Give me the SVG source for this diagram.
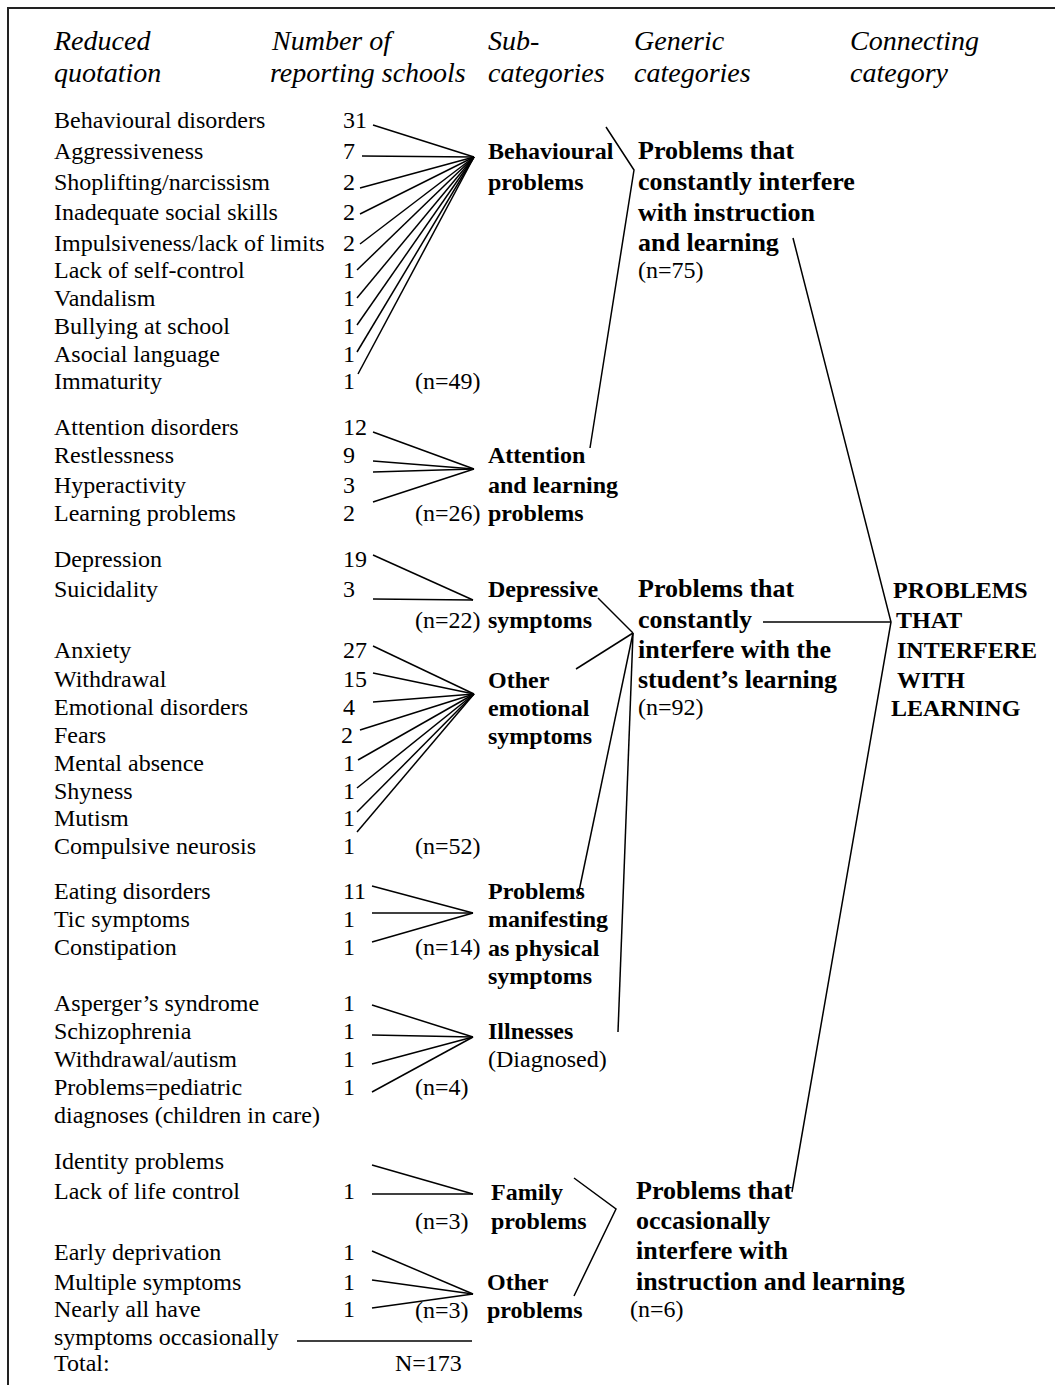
<svg xmlns="http://www.w3.org/2000/svg" width="1055" height="1385" viewBox="0 0 1055 1385">
<style>
text{font-family:"Liberation Serif","Times New Roman",serif;fill:#000;}
.h{font-size:28px;font-style:italic;}
.t{font-size:24px;}
.b{font-size:24px;font-weight:bold;}
.g{font-size:26px;font-weight:bold;}
.c line,.c polyline{stroke:#000;stroke-width:1.5;fill:none;}
.frame{stroke:#222;stroke-width:2;fill:none;}
</style>
<rect width="1055" height="1385" fill="#fff"/>
<polyline class="frame" points="8,1385 8,8 1055,8"/>

<g id="header" class="h">
<text x="54" y="50">Reduced</text><text x="54" y="82">quotation</text>
<text x="272" y="50">Number of</text><text x="270" y="82">reporting schools</text>
<text x="488" y="50">Sub-</text><text x="488" y="82">categories</text>
<text x="634" y="50">Generic</text><text x="634" y="82">categories</text>
<text x="850" y="50">Connecting</text><text x="850" y="82">category</text>
</g>

<g id="quotes-behavioural" class="t">
<text x="54" y="128">Behavioural disorders</text><text x="343" y="128">31</text>
<text x="54" y="159">Aggressiveness</text><text x="343" y="159">7</text>
<text x="54" y="190">Shoplifting/narcissism</text><text x="343" y="190">2</text>
<text x="54" y="220">Inadequate social skills</text><text x="343" y="220">2</text>
<text x="54" y="251">Impulsiveness/lack of limits</text><text x="343" y="251">2</text>
<text x="54" y="278">Lack of self-control</text><text x="343" y="278">1</text>
<text x="54" y="306">Vandalism</text><text x="343" y="306">1</text>
<text x="54" y="334">Bullying at school</text><text x="343" y="334">1</text>
<text x="54" y="362">Asocial language</text><text x="343" y="362">1</text>
<text x="54" y="389">Immaturity</text><text x="343" y="389">1</text>
<text x="415" y="389">(n=49)</text>
</g>

<g id="quotes-attention" class="t">
<text x="54" y="435">Attention disorders</text><text x="343" y="435">12</text>
<text x="54" y="463">Restlessness</text><text x="343" y="463">9</text>
<text x="54" y="493">Hyperactivity</text><text x="343" y="493">3</text>
<text x="54" y="521">Learning problems</text><text x="343" y="521">2</text>
<text x="415" y="521">(n=26)</text>
</g>

<g id="quotes-depressive" class="t">
<text x="54" y="567">Depression</text><text x="343" y="567">19</text>
<text x="54" y="597">Suicidality</text><text x="343" y="597">3</text>
<text x="415" y="628">(n=22)</text>
</g>

<g id="quotes-emotional" class="t">
<text x="54" y="658">Anxiety</text><text x="343" y="658">27</text>
<text x="54" y="687">Withdrawal</text><text x="343" y="687">15</text>
<text x="54" y="715">Emotional disorders</text><text x="343" y="715">4</text>
<text x="54" y="743">Fears</text><text x="341" y="743">2</text>
<text x="54" y="771">Mental absence</text><text x="343" y="771">1</text>
<text x="54" y="799">Shyness</text><text x="343" y="799">1</text>
<text x="54" y="826">Mutism</text><text x="343" y="826">1</text>
<text x="54" y="854">Compulsive neurosis</text><text x="343" y="854">1</text>
<text x="415" y="854">(n=52)</text>
</g>

<g id="quotes-physical" class="t">
<text x="54" y="899">Eating disorders</text><text x="343" y="899">11</text>
<text x="54" y="927">Tic symptoms</text><text x="343" y="927">1</text>
<text x="54" y="955">Constipation</text><text x="343" y="955">1</text>
<text x="415" y="955">(n=14)</text>
</g>

<g id="quotes-illnesses" class="t">
<text x="54" y="1011">Asperger’s syndrome</text><text x="343" y="1011">1</text>
<text x="54" y="1039">Schizophrenia</text><text x="343" y="1039">1</text>
<text x="54" y="1067">Withdrawal/autism</text><text x="343" y="1067">1</text>
<text x="54" y="1095">Problems=pediatric</text><text x="343" y="1095">1</text>
<text x="54" y="1123">diagnoses (children in care)</text>
<text x="415" y="1095">(n=4)</text>
</g>

<g id="quotes-family" class="t">
<text x="54" y="1169">Identity problems</text>
<text x="54" y="1199">Lack of life control</text><text x="343" y="1199">1</text>
<text x="415" y="1229">(n=3)</text>
</g>

<g id="quotes-other" class="t">
<text x="54" y="1260">Early deprivation</text><text x="343" y="1260">1</text>
<text x="54" y="1290">Multiple symptoms</text><text x="343" y="1290">1</text>
<text x="54" y="1317">Nearly all have</text><text x="343" y="1317">1</text>
<text x="54" y="1345">symptoms occasionally</text>
<text x="415" y="1318">(n=3)</text>
</g>

<g id="total" class="t">
<text x="54" y="1371">Total:</text>
<text x="395" y="1371">N=173</text>
</g>

<g id="sub-behavioural" class="b"><text x="488" y="159">Behavioural</text><text x="488" y="190">problems</text></g>
<g id="sub-attention" class="b"><text x="488" y="463">Attention</text><text x="488" y="493">and learning</text><text x="488" y="521">problems</text></g>
<g id="sub-depressive" class="b"><text x="488" y="597">Depressive</text><text x="488" y="628">symptoms</text></g>
<g id="sub-emotional" class="b"><text x="488" y="688">Other</text><text x="488" y="716">emotional</text><text x="488" y="744">symptoms</text></g>
<g id="sub-physical" class="b"><text x="488" y="899">Problems</text><text x="488" y="927">manifesting</text><text x="488" y="956">as physical</text><text x="488" y="984">symptoms</text></g>
<g id="sub-illnesses"><text class="b" x="488" y="1039">Illnesses</text><text class="t" x="488" y="1067">(Diagnosed)</text></g>
<g id="sub-family" class="b"><text x="491" y="1200">Family</text><text x="491" y="1229">problems</text></g>
<g id="sub-other" class="b"><text x="487" y="1290">Other</text><text x="487" y="1318">problems</text></g>

<g id="gen-instruction"><g class="g"><text x="638" y="159">Problems that</text><text x="638" y="190">constantly interfere</text><text x="638" y="221">with instruction</text><text x="638" y="251">and learning</text></g><text class="t" x="638" y="278">(n=75)</text></g>
<g id="gen-student"><g class="g"><text x="638" y="597">Problems that</text><text x="638" y="628">constantly</text><text x="638" y="658">interfere with the</text><text x="638" y="688">student’s learning</text></g><text class="t" x="638" y="715">(n=92)</text></g>
<g id="gen-occasional"><g class="g"><text x="636" y="1199">Problems that</text><text x="636" y="1229">occasionally</text><text x="636" y="1259">interfere with</text><text x="636" y="1290">instruction and learning</text></g><text class="t" x="630" y="1317">(n=6)</text></g>

<g id="connecting" class="b">
<text x="893" y="598">PROBLEMS</text>
<text x="896" y="628">THAT</text>
<text x="897" y="658">INTERFERE</text>
<text x="897" y="688">WITH</text>
<text x="891" y="716">LEARNING</text>
</g>

<g id="connectors" class="c">
<line x1="373" y1="125" x2="474" y2="157"/>
<line x1="362" y1="156" x2="474" y2="157"/>
<line x1="360" y1="188" x2="474" y2="157"/>
<line x1="360" y1="214" x2="474" y2="157"/>
<line x1="360" y1="244" x2="474" y2="157"/>
<line x1="357" y1="270" x2="474" y2="157"/>
<line x1="357" y1="298" x2="474" y2="157"/>
<line x1="357" y1="325" x2="474" y2="157"/>
<line x1="357" y1="352" x2="474" y2="157"/>
<line x1="358" y1="374" x2="474" y2="157"/>

<line x1="373" y1="432" x2="474" y2="469"/>
<line x1="373" y1="461" x2="474" y2="469"/>
<line x1="373" y1="472" x2="474" y2="469"/>
<line x1="373" y1="502" x2="474" y2="469"/>

<line x1="373" y1="555" x2="473" y2="600"/>
<line x1="373" y1="599" x2="473" y2="600"/>

<line x1="373" y1="646" x2="474" y2="694"/>
<line x1="373" y1="673" x2="474" y2="694"/>
<line x1="373" y1="702" x2="474" y2="694"/>
<line x1="360" y1="730" x2="474" y2="694"/>
<line x1="358" y1="760" x2="474" y2="694"/>
<line x1="357" y1="788" x2="474" y2="694"/>
<line x1="357" y1="812" x2="474" y2="694"/>
<line x1="357" y1="832" x2="474" y2="694"/>

<line x1="372" y1="886" x2="473" y2="913"/>
<line x1="372" y1="913" x2="473" y2="913"/>
<line x1="372" y1="942" x2="473" y2="913"/>

<line x1="372" y1="1005" x2="473" y2="1037"/>
<line x1="372" y1="1035" x2="473" y2="1037"/>
<line x1="372" y1="1064" x2="473" y2="1037"/>
<line x1="372" y1="1092" x2="473" y2="1037"/>

<line x1="372" y1="1165" x2="473" y2="1194"/>
<line x1="372" y1="1194" x2="473" y2="1194"/>

<line x1="372" y1="1251" x2="473" y2="1294"/>
<line x1="372" y1="1280" x2="473" y2="1294"/>
<line x1="372" y1="1308" x2="473" y2="1294"/>

<line x1="297" y1="1341" x2="472" y2="1341"/>

<polyline points="606,127 634,170 590,448"/>
<line x1="598" y1="598" x2="633" y2="633"/>
<line x1="576" y1="669" x2="633" y2="633"/>
<line x1="578" y1="896" x2="633" y2="633"/>
<line x1="618" y1="1032" x2="633" y2="633"/>

<polyline points="574,1178 616,1209 574,1296"/>

<polyline points="793,238 891,622 792,1192"/>
<line x1="763" y1="622" x2="891" y2="622"/>
</g>
</svg>
